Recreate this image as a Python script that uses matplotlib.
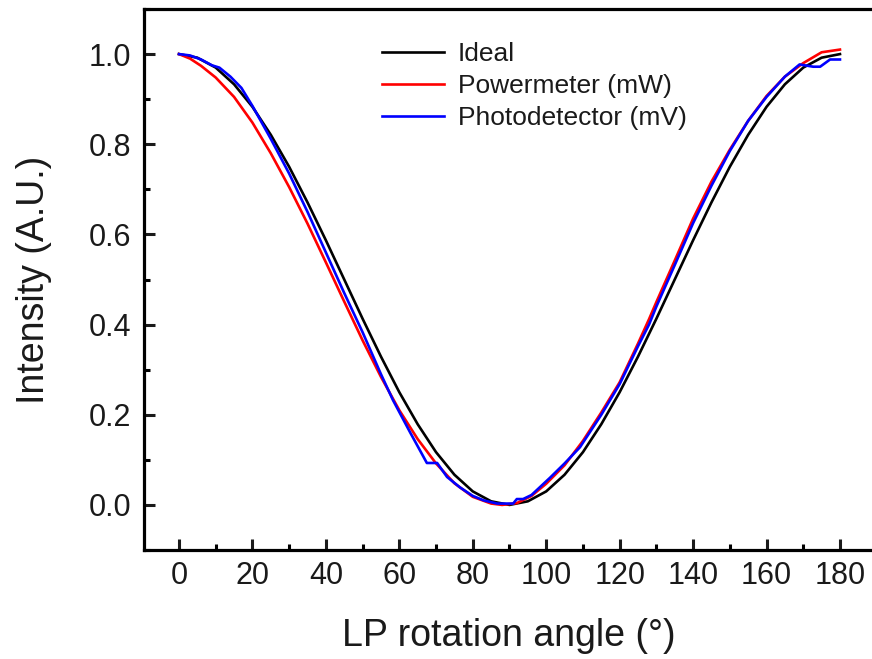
import matplotlib
matplotlib.use("Agg")
import matplotlib.pyplot as plt
from matplotlib.ticker import MultipleLocator

plt.rcParams['font.family'] = ['Liberation Sans', 'DejaVu Sans']

# ---- data ----
ideal_x = [0, 5, 10, 15, 20, 25, 30, 35, 40, 45, 50, 55, 60, 65, 70, 75, 80, 85, 90,
           95, 100, 105, 110, 115, 120, 125, 130, 135, 140, 145, 150, 155, 160, 165, 170, 175, 180]
ideal_y = [1.000, 0.992, 0.970, 0.933, 0.883, 0.821, 0.750, 0.671, 0.587, 0.500, 0.413, 0.329,
           0.250, 0.179, 0.117, 0.067, 0.030, 0.008, 0.000, 0.008, 0.030, 0.067, 0.117, 0.179,
           0.250, 0.329, 0.413, 0.500, 0.587, 0.671, 0.750, 0.821, 0.883, 0.933, 0.970, 0.992, 1.000]

power_x = [0, 3, 6, 10, 15, 20, 25, 30, 35, 40, 45, 50, 55, 60, 65, 70, 75, 80, 85, 88,
           92, 96, 100, 105, 110, 115, 120, 125, 128, 130, 135, 140, 145, 150, 155, 160,
           165, 170, 175, 180]
power_y = [1.000, 0.990, 0.974, 0.948, 0.905, 0.848, 0.780, 0.705, 0.624, 0.538, 0.451, 0.365,
           0.284, 0.210, 0.146, 0.092, 0.048, 0.018, 0.003, 0.000,
           0.004, 0.020, 0.047, 0.088, 0.142, 0.205, 0.272, 0.358, 0.412, 0.450, 0.542, 0.635,
           0.717, 0.788, 0.852, 0.907, 0.950, 0.980, 1.004, 1.010]

photo_x = [0, 3, 6, 9, 11, 14, 17, 20, 25, 30, 35, 40, 45, 50, 55, 58.3, 63, 67.5, 70.3,
           73, 76.5, 80, 83, 86.6, 91, 92, 93.7, 96, 101, 105, 109.2, 115, 120, 125, 128,
           130, 135, 140, 145, 150, 155, 160, 165, 169, 172.7, 174.6, 177.3, 180]
photo_y = [1.000, 0.997, 0.988, 0.975, 0.970, 0.950, 0.925, 0.885, 0.812, 0.735, 0.650, 0.560,
           0.470, 0.383, 0.290, 0.232, 0.160, 0.093, 0.093,
           0.062, 0.039, 0.020, 0.010, 0.003, 0.003, 0.013, 0.013, 0.022, 0.060, 0.092, 0.128,
           0.200, 0.268, 0.352, 0.400, 0.440, 0.532, 0.625, 0.708, 0.785, 0.852, 0.905, 0.950,
           0.977, 0.972, 0.972, 0.988, 0.988]

labels = ['Ideal', 'Powermeter (mW)', 'Photodetector (mV)']
colors = ['#000000', '#ff0000', '#0000ff']

x_ticks = [0, 20, 40, 60, 80, 100, 120, 140, 160, 180]
y_ticks = [0.0, 0.2, 0.4, 0.6, 0.8, 1.0]

# ---- figure ----
W, H = 872, 659
fig = plt.figure(figsize=(W / 100, H / 100), dpi=100)
ax = fig.add_axes([144.1 / W, 1 - 550 / H, 732.6 / W, 541 / H])

lw = 1.9
ax.plot(ideal_x, ideal_y, color=colors[0], lw=lw, label=labels[0])
ax.plot(power_x, power_y, color=colors[1], lw=lw, label=labels[1])
ax.plot(photo_x, photo_y, color=colors[2], lw=lw, label=labels[2])

ax.set_xlim(-9.5, 190)
ax.set_ylim(-0.1, 1.1)
ax.set_xticks(x_ticks)
ax.set_yticks(y_ticks)
ax.set_yticklabels([f'{v:.1f}' for v in y_ticks])
ax.xaxis.set_minor_locator(MultipleLocator(10))
ax.yaxis.set_minor_locator(MultipleLocator(0.1))

for s in ax.spines.values():
    s.set_linewidth(2.3)
ax.tick_params(which='major', direction='in', length=8, width=2.2,
               labelsize=22, colors='#1a1a1a', top=False, right=False)
ax.tick_params(which='minor', direction='in', length=4.5, width=2.2, top=False, right=False)
ax.tick_params(axis='x', which='major', pad=8)
ax.tick_params(axis='y', which='major', pad=9)

ax.set_xlabel('LP rotation angle (°)', fontsize=27, color='#1a1a1a', va='center')
ax.set_ylabel('Intensity (A.U.)', fontsize=27, color='#1a1a1a', va='center')
ax.xaxis.set_label_coords((509 - 144.1) / 732.6, -(636 - 550) / 541)
ax.yaxis.set_label_coords(-(144.1 - 34) / 732.6, (550 - 280) / 541)

leg = ax.legend(loc='upper left', bbox_to_anchor=(382 / W, 1 - 42 / H),
                bbox_transform=fig.transFigure, frameon=False, fontsize=19,
                handlelength=2.34, handletextpad=0.54, labelspacing=0.3,
                borderpad=0, borderaxespad=0)
for t in leg.get_texts():
    t.set_color('#1a1a1a')

fig.savefig('out.png', dpi=100)
